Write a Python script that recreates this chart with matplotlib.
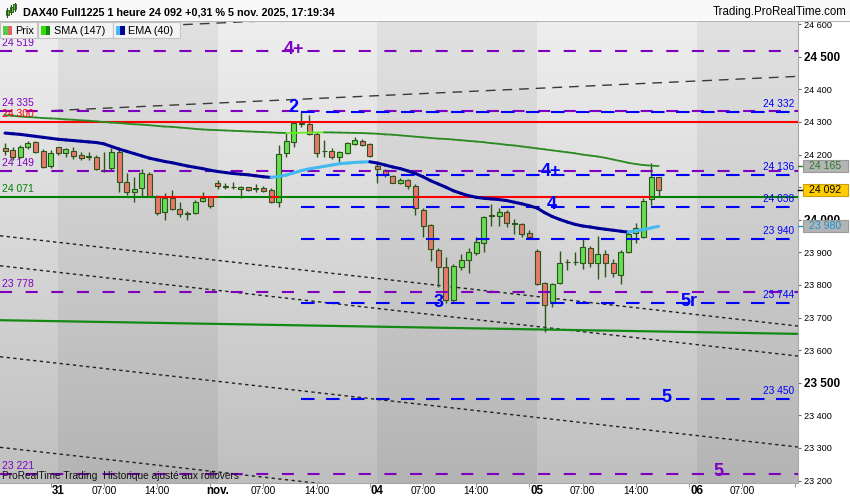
import numpy as np
import matplotlib
matplotlib.use("Agg")
import matplotlib.pyplot as plt
from matplotlib.patches import Rectangle
from matplotlib.collections import LineCollection
import matplotlib.transforms as mtrans

plt.rcParams['font.family'] = ['Liberation Sans', 'DejaVu Sans']

# ---------------- data ----------------
opens = [24219, 24214, 24194, 24222, 24238, 24212, 24165, 24222, 24206, 24212,
         24198, 24192, 24194, 24153, 24158, 24209, 24117, 24086, 24097, 24140,
         24073, 24025, 24068, 24032, 24020, 24022, 24059, 24071, 24112, 24104,
         24102, 24094, 24100, 24097, 24097, 24091, 24056, 24204, 24240, 24297,
         24294, 24262, 24211, 24212, 24193, 24204, 24233, 24243, 24232, 24165,
         24153, 24134, 24112, 24122, 24104, 24030, 23984, 23907, 23856, 23754,
         23854, 23877, 23899, 23930, 24013, 24012, 24025, 23989, 23987, 23959,
         23905, 23807, 23744, 23805, 23870, 23872, 23867, 23913, 23868, 23894,
         23867, 23831, 23900, 23960, 23946, 24063, 24130]
highs = [24235, 24224, 24229, 24243, 24243, 24216, 24214, 24224, 24219, 24222,
         24209, 24209, 24199, 24209, 24219, 24216, 24143, 24130, 24155, 24148,
         24076, 24081, 24091, 24056, 24028, 24061, 24086, 24073, 24122, 24112,
         24117, 24104, 24102, 24109, 24104, 24097, 24229, 24266, 24301, 24332,
         24321, 24270, 24245, 24220, 24212, 24240, 24253, 24247, 24235, 24174,
         24155, 24137, 24127, 24124, 24110, 24035, 23987, 23913, 23887, 23864,
         23895, 23913, 23948, 24012, 24048, 24035, 24030, 24002, 23991, 23969,
         23910, 23810, 23805, 23904, 23880, 23900, 23941, 23920, 23950, 23907,
         23880, 23907, 23963, 23989, 24066, 24175, 24132]
lows = [24199, 24183, 24189, 24216, 24204, 24158, 24158, 24199, 24194, 24186,
        24183, 24183, 24153, 24148, 24153, 24086, 24076, 24056, 24071, 24071,
        24015, 23999, 24030, 24010, 23999, 24018, 24056, 24035, 24094, 24094,
        24094, 24066, 24089, 24086, 24086, 24050, 24039, 24193, 24223, 24286,
        24260, 24194, 24194, 24187, 24178, 24202, 24229, 24226, 24194, 24112,
        24130, 24112, 24110, 24094, 24015, 23948, 23875, 23795, 23744, 23749,
        23846, 23836, 23892, 23902, 23981, 23981, 23978, 23956, 23948, 23943,
        23800, 23657, 23733, 23803, 23846, 23861, 23849, 23856, 23817, 23824,
        23824, 23803, 23897, 23930, 23943, 24045, 24073]
closes = [24211, 24194, 24222, 24237, 24209, 24163, 24206, 24204, 24216, 24196,
          24189, 24196, 24155, 24151, 24209, 24117, 24086, 24094, 24143, 24073,
          24022, 24068, 24032, 24018, 24019, 24056, 24066, 24042, 24104, 24100,
          24100, 24102, 24091, 24095, 24089, 24056, 24202, 24243, 24298, 24295,
          24263, 24206, 24210, 24192, 24208, 24237, 24245, 24229, 24196, 24156,
          24140, 24114, 24122, 24104, 24035, 23981, 23910, 23856, 23754, 23858,
          23877, 23902, 23933, 24010, 24015, 24025, 23991, 23988, 23956, 23948,
          23802, 23739, 23802, 23867, 23872, 23870, 23917, 23868, 23894, 23868,
          23836, 23900, 23956, 23974, 24059, 24130, 24092]
sma147 = [24321, 24319, 24317, 24315, 24314, 24312, 24311, 24310, 24308, 24307,
          24305, 24304, 24302, 24300, 24298, 24297, 24295, 24293, 24292, 24290,
          24288, 24286, 24285, 24283, 24281, 24279, 24277, 24276, 24275, 24274,
          24273, 24272, 24271, 24270, 24269, 24268, 24267, 24266.0, 24266.5, 24267.0,
          24267.5, 24268.0, 24268.3, 24268.0, 24267.5, 24267, 24266.5, 24266, 24265, 24264,
          24262, 24261, 24259, 24257, 24255, 24253, 24251, 24249, 24248, 24246,
          24244, 24242, 24240, 24238, 24235, 24233, 24230, 24228, 24225, 24222,
          24219, 24216, 24213, 24210, 24207, 24204, 24200, 24197, 24194, 24190,
          24185, 24180, 24175, 24171, 24168, 24166, 24165]
ema40 = [24266, 24264, 24262, 24259, 24256, 24253, 24250, 24247, 24245, 24243,
         24241, 24239, 24237, 24233, 24225, 24217, 24210, 24203, 24196, 24189,
         24184, 24179, 24175, 24170, 24165, 24161, 24157, 24152, 24148, 24145,
         24142, 24140, 24138, 24135, 24132, 24130, 24133, 24137, 24144, 24151,
         24156, 24160, 24164, 24168, 24172, 24174, 24176, 24177, 24178, 24174,
         24168, 24162, 24157, 24150, 24142, 24132, 24120, 24110, 24100, 24089,
         24081, 24074, 24069, 24066, 24064, 24062, 24059, 24054, 24049, 24043,
         24036, 24022, 24010, 24001, 23993, 23986, 23981, 23978, 23974, 23971,
         23968, 23965, 23962, 23966, 23970, 23975, 23980]

purple_levels = [24519, 24335, 24149, 23778, 23221]
purple_labels = ["24 519", "24 335", "24 149", "23 778", "23 221"]
blue_levels = [24332, 24136, 24038, 23940, 23744, 23450]
blue_labels = ["24 332", "24 136", "24 038", "23 940", "23 744", "23 450"]
blue_start = 39
red_level = 24300
green_level = 24071

# trend lines: (x0, p0, x1, p1)
upper_lines = [(6.3, 24335, 104.34, 24440), (-0.66, 24573, 104.34, 24685)]
lower_lines = [(-0.66, 23951, 104.34, 23674), (-0.66, 23859, 104.34, 23582),
               (-0.66, 23580, 104.34, 23303), (-0.66, 23302, 104.34, 23025)]
green_trend = (-0.66, 23692, 104.34, 23650)

# wave labels: (text, x, price, colour)
wave_labels = [("4+", 38.0, 24522, 'purple'), ("2", 38.0, 24344, 'blue'),
               ("4+", 71.9, 24147, 'blue'), ("4", 72.0, 24047, 'blue'),
               ("3", 57.0, 23746, 'blue'), ("5r", 90.0, 23749, 'blue'),
               ("5", 87.0, 23455, 'blue'), ("5", 93.9, 23228, 'purple')]

day_names = ["31", "nov.", "04", "05", "06"]
day_start = [7, 28, 49, 70, 91]
hour_names = ["07:00", "14:00"]
hour_offset = [6, 13]

last_price = 24092
sma_last = 24165
ema_last = 23980
yticks = list(range(23200, 24601, 100))

# ---------------- layout ----------------
W, H = 850, 500
fig = plt.figure(figsize=(8.5, 5), dpi=100)
fig.patch.set_facecolor('white')
AX_L, AX_R, AX_T, AX_B = 0, 798, 21, 483
ax = fig.add_axes([AX_L / W, 1 - AX_B / H, (AX_R - AX_L) / W, (AX_B - AX_T) / H])
X_MIN, X_MAX = -0.66, 104.34
Y_MIN, Y_MAX = 23192.6, 24609.8
PX = (Y_MAX - Y_MIN) / (AX_B - AX_T)   # price per pixel

PURPLE = '#8000c0'
BLUE = '#0000ff'
WICK = '#2c5518'

# background bands with vertical gradient
bounds = [X_MIN] + day_start + [X_MAX]
t = np.linspace(0, 1, 256)[:, None]
for k in range(len(bounds) - 1):
    if k % 2 == 0:
        top, bot = np.array([0.935] * 3), np.array([0.75] * 3)
    else:
        top, bot = np.array([0.885] * 3), np.array([0.705] * 3)
    col = top * (1 - t) + bot * t
    img = np.repeat(col[:, None, :], 2, axis=1)
    ax.imshow(img, extent=[bounds[k], bounds[k + 1], Y_MIN, Y_MAX], aspect='auto',
              origin='upper', zorder=0, interpolation='bilinear')

# trend lines
for (x0, p0, x1, p1) in upper_lines:
    ax.plot([x0, x1], [p0, p1], color='#3a3a3a', lw=1.0,
            linestyle=(0, (7, 5)), zorder=2)
for (x0, p0, x1, p1) in lower_lines:
    ax.plot([x0, x1], [p0, p1], color='#222222', lw=1.0,
            linestyle=(0, (2.4, 2.4)), zorder=2)
ax.plot([green_trend[0], green_trend[2]], [green_trend[1], green_trend[3]],
        color='#138a13', lw=1.6, zorder=2)

# candles
n = len(opens)
xs = np.arange(n)
for i in range(n):
    o, h, l, c = opens[i], highs[i], lows[i], closes[i]
    ax.plot([i, i], [l, h], color=WICK, lw=1.0, zorder=5, solid_capstyle='butt')
    lo, hi = min(o, c), max(o, c)
    fc = '#66dd55' if c >= o else '#e8786e'
    hgt = max(hi - lo, 1.5)
    ax.add_patch(Rectangle((i - 0.33, lo), 0.66, hgt, facecolor=fc,
                           edgecolor=WICK, lw=0.8, zorder=6))

# horizontal levels
for lv in purple_levels:
    ax.plot([X_MIN, X_MAX], [lv, lv], color=PURPLE, lw=1.5,
            linestyle=(0, (5.8, 6.5)), zorder=7)
for lv in blue_levels:
    ax.plot([blue_start, X_MAX], [lv, lv], color=BLUE, lw=1.5,
            linestyle=(0, (6.5, 5.5)), zorder=7)
ax.plot([X_MIN, X_MAX], [red_level, red_level], color='#ff0000', lw=1.5, zorder=7)

# green / red level line (red where close below level)
segs, cols = [], []
segs.append([(X_MIN, green_level), (0, green_level)])
cols.append('#008000')
for i in range(n - 1):
    segs.append([(i, green_level), (i + 1, green_level)])
    cols.append('#ff0000' if closes[i] < green_level else '#008000')
segs.append([(n - 1, green_level), (X_MAX, green_level)])
cols.append('#ff0000' if closes[-1] < green_level else '#008000')
ax.add_collection(LineCollection(segs, colors=cols, linewidths=1.5, zorder=7))


def colored_line(vals, up, down, lw):
    pts = np.column_stack([xs, vals])
    sg = np.stack([pts[:-1], pts[1:]], axis=1)
    cl = [up if vals[i + 1] > vals[i] else down for i in range(len(vals) - 1)]
    ax.add_collection(LineCollection(sg, colors=cl, linewidths=lw, zorder=8,
                                     capstyle='round', joinstyle='round'))


colored_line(sma147, '#66ee22', '#2a8a22', 1.3)
colored_line(ema40, '#44bbf0', '#000099', 2.2)

# level labels
for lv, lab in zip(purple_levels, purple_labels):
    ax.annotate(lab, xy=(X_MIN, lv), xytext=(1.5, 2), textcoords='offset points',
                ha='left', va='bottom', fontsize=7.5, color=PURPLE, zorder=10)
ax.annotate("24 300", xy=(X_MIN, red_level), xytext=(1.5, 2), textcoords='offset points',
            ha='left', va='bottom', fontsize=7.5, color='#ff0000', zorder=10)
ax.annotate("24 071", xy=(X_MIN, green_level), xytext=(1.5, 2), textcoords='offset points',
            ha='left', va='bottom', fontsize=7.5, color='#008000', zorder=10)
for lv, lab in zip(blue_levels, blue_labels):
    ax.annotate(lab, xy=(X_MAX, lv), xytext=(-2.5, 2.2), textcoords='offset points',
                ha='right', va='bottom', fontsize=7.3, color=BLUE, zorder=10)

for txt, xi, p, c in wave_labels:
    ax.text(xi, p, txt, ha='center', va='center', fontsize=13, fontweight='bold',
            color=PURPLE if c == 'purple' else BLUE, zorder=11)

ax.text(0.003, 1 - (476 - AX_T) / (AX_B - AX_T),
        "ProRealTime Trading  Historique ajusté aux rollovers",
        transform=ax.transAxes, ha='left', va='center', fontsize=7.3,
        color='#111111', zorder=11)

ax.set_xlim(X_MIN, X_MAX)
ax.set_ylim(Y_MIN, Y_MAX)

# axes styling
for s in ['top', 'left']:
    ax.spines[s].set_visible(False)
ax.spines['right'].set_color('#a8a8a8')
ax.spines['bottom'].set_color('#a8a8a8')
ax.yaxis.tick_right()
ax.set_yticks(yticks)
# labels hidden behind the value boxes in the reference are left blank
hidden = [24100]
ax.set_yticklabels(['' if v in hidden else f"{v // 1000} {v % 1000:03d}" for v in yticks])
for lab, v in zip(ax.get_yticklabels(), yticks):
    if v % 500 == 0:
        lab.set_fontweight('bold')
        lab.set_fontsize(8.5)
    else:
        lab.set_fontsize(6.6)
ax.tick_params(axis='y', direction='out', length=2.5, width=0.8, color='#666666', pad=1.5)

xt = list(range(6, 105, 7))
ax.set_xticks(xt)
ax.set_xticklabels([''] * len(xt))
ax.tick_params(axis='x', direction='out', length=3, width=0.8, color='#999999')
xtr = ax.get_xaxis_transform()
ylab = -(491 - AX_B) / (AX_B - AX_T)
for d, nm in zip(day_start, day_names):
    ax.text(d, ylab, nm, transform=xtr, ha='center', va='center', fontsize=8.3,
            fontweight='bold', clip_on=False)
    for hn, ho in zip(hour_names, hour_offset):
        hx = d + ho
        if hx <= X_MAX - 4:
            ax.text(hx, ylab, hn, transform=xtr, ha='center', va='center',
                    fontsize=7.3, clip_on=False)

# value boxes on the right axis
btr = mtrans.blended_transform_factory(fig.transFigure, ax.transData)
hh = 6 * PX
for val, fc, ec, tc in [(sma_last, '#b4b4b4', '#9a9a9a', '#2a7a2a'),
                        (last_price, '#ffcc00', '#c9a000', '#000000'),
                        (ema_last, '#b4b4b4', '#9a9a9a', '#1e8fd0')]:
    r = Rectangle((803 / W, val - hh), 45 / W, 2 * hh, transform=btr, facecolor=fc,
                  edgecolor=ec, lw=0.8, clip_on=False, zorder=20)
    ax.add_patch(r)
    ax.text(825.5 / W, val, f"{val // 1000} {val % 1000:03d}", transform=btr,
            ha='center', va='center', fontsize=7.6, color=tc, clip_on=False, zorder=21)
    ax.plot([798 / W, 802 / W], [val, val], transform=btr, color=tc, lw=1.0,
            clip_on=False, zorder=21)


# ---------------- header & legend ----------------
def fig_rect(x, y, w, h, **kw):
    r = Rectangle((x / W, 1 - (y + h) / H), w / W, h / H, transform=fig.transFigure, **kw)
    fig.add_artist(r)


fig_rect(0, 0, 850, 20, facecolor='#f9f9f9', edgecolor='none')
fig.add_artist(plt.Line2D([0, 1], [1 - 20.5 / H, 1 - 20.5 / H], transform=fig.transFigure,
                          color='#b8b8b8', lw=0.8))
# candle icon
for (cx, y0, y1, b0, b1) in [(7, 8, 17, 10, 15), (11, 5, 14, 7, 12), (15, 3, 11, 4, 9)]:
    fig.add_artist(plt.Line2D([cx / W, cx / W], [1 - y1 / H, 1 - y0 / H],
                              transform=fig.transFigure, color='#2c5518', lw=0.8))
    fig_rect(cx - 1.5, b0, 3, b1 - b0, facecolor='#55cc33', edgecolor='#2c5518', lw=0.6)
fig.text(23 / W, 1 - 12.5 / H, "DAX40 Full1225 1 heure 24 092 +0,31 % 5 nov. 2025, 17:19:34",
         fontsize=7.8, fontweight='bold', ha='left', va='center', color='#000000')
fig.text(847 / W, 1 - 12.5 / H, "Trading.ProRealTime.com", fontsize=8.3,
         ha='right', va='center', color='#000000')

legend = [(0, 37, 'Prix', '#55cc44', '#e06666'),
          (38, 75, 'SMA (147)', '#33dd00', '#118811'),
          (113, 67, 'EMA (40)', '#44bbff', '#000099')]
for (lx, lw_, txt, c1, c2) in legend:
    fig_rect(lx, 22, lw_, 16, facecolor='#f3f3f3', edgecolor='#c4c4c4', lw=0.8)
    fig_rect(lx + 3, 26, 4.5, 9, facecolor=c1, edgecolor='none')
    fig_rect(lx + 7.5, 26, 4.5, 9, facecolor=c2, edgecolor='none')
    fig.text((lx + 15.5) / W, 1 - 30.5 / H, txt, fontsize=7.8, ha='left', va='center',
             color='#000000')

fig.savefig('out.png', dpi=100)
